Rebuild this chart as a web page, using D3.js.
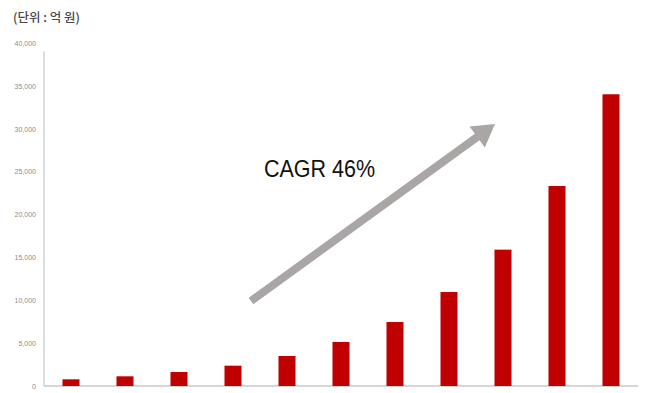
<!DOCTYPE html>
<html>
<head>
<meta charset="utf-8">
<script src="https://cdn.jsdelivr.net/npm/d3@7"></script>
<style>
  html, body { margin: 0; padding: 0; background: #fff; }
  svg { display: block; }
</style>
</head>
<body>
<svg id="chart" width="645" height="393"></svg>
<script>
// Market size by period (unit: 100 million KRW)
const periods = ["1", "2", "3", "4", "5", "6", "7", "8", "9", "10", "11"];
const values = [780, 1130, 1630, 2370, 3500, 5130, 7460, 10960, 15900, 23320, 34020];
const yTicks = [0, 5000, 10000, 15000, 20000, 25000, 30000, 35000, 40000];
const unitLabel = "(단위 : 억 원)";
const cagrLabel = "CAGR 46%";

const svg = d3.select("#chart");
const plotLeft = 44, plotRight = 638, plotBottom = 386, plotTop = 43;

const x = d3.scaleBand()
  .domain(periods)
  .range([plotLeft, plotRight])
  .paddingInner(0.685)
  .paddingOuter(0.3425);

const y = d3.scaleLinear()
  .domain([0, 40000])
  .range([plotBottom, plotTop]);

// unit caption
svg.append("text")
  .attr("x", 13)
  .attr("y", 22)
  .attr("font-family", "'Noto Sans CJK KR', 'Noto Sans', sans-serif")
  .attr("font-size", 12.5)
  .attr("font-weight", 500)
  .attr("fill", "#4a4a4a")
  .text(unitLabel);

// y axis labels
const yAxis = d3.axisLeft(y)
  .tickValues(yTicks)
  .tickSize(0)
  .tickPadding(8)
  .tickFormat(d3.format(","));

const gy = svg.append("g")
  .attr("transform", `translate(${plotLeft},0)`)
  .call(yAxis);
gy.select(".domain").remove();
gy.selectAll("text")
  .attr("font-family", "'Liberation Sans', Arial, sans-serif")
  .attr("font-size", 7)
  .attr("fill", "#8c8c8c");

// axis lines
svg.append("line")
  .attr("x1", plotLeft).attr("x2", plotLeft)
  .attr("y1", y(39000)).attr("y2", plotBottom)
  .attr("stroke", "#d0d0d0").attr("stroke-width", 1.5);
svg.append("line")
  .attr("x1", plotLeft).attr("x2", plotRight)
  .attr("y1", plotBottom).attr("y2", plotBottom)
  .attr("stroke", "#c8c8c8").attr("stroke-width", 1.5);

// bars
svg.append("g")
  .selectAll("rect")
  .data(values)
  .join("rect")
  .attr("x", (d, i) => x(periods[i]))
  .attr("width", x.bandwidth())
  .attr("y", d => y(d))
  .attr("height", d => y(0) - y(d))
  .attr("fill", "#c00000");

// growth arrow
const tail = [251, 301], tip = [495, 124];
const dx = tip[0] - tail[0], dy = tip[1] - tail[1];
const len = Math.hypot(dx, dy);
const ux = dx / len, uy = dy / len;
const px = -uy, py = ux;
const headLen = 22, headHalf = 13, shaftHalf = 4;
const bx = tip[0] - ux * headLen, by = tip[1] - uy * headLen;
const pts = [
  [tail[0] + px * shaftHalf, tail[1] + py * shaftHalf],
  [bx + px * shaftHalf, by + py * shaftHalf],
  [bx + px * headHalf, by + py * headHalf],
  tip,
  [bx - px * headHalf, by - py * headHalf],
  [bx - px * shaftHalf, by - py * shaftHalf],
  [tail[0] - px * shaftHalf, tail[1] - py * shaftHalf]
];
svg.append("path")
  .attr("d", d3.line()(pts) + "Z")
  .attr("fill", "#aaa6a6");

// CAGR label
svg.append("text")
  .attr("x", 264)
  .attr("y", 177)
  .attr("font-family", "'Liberation Sans', Arial, sans-serif")
  .attr("font-size", 24.5)
  .attr("textLength", 111)
  .attr("lengthAdjust", "spacingAndGlyphs")
  .attr("fill", "#111")
  .text(cagrLabel);
</script>
</body>
</html>
